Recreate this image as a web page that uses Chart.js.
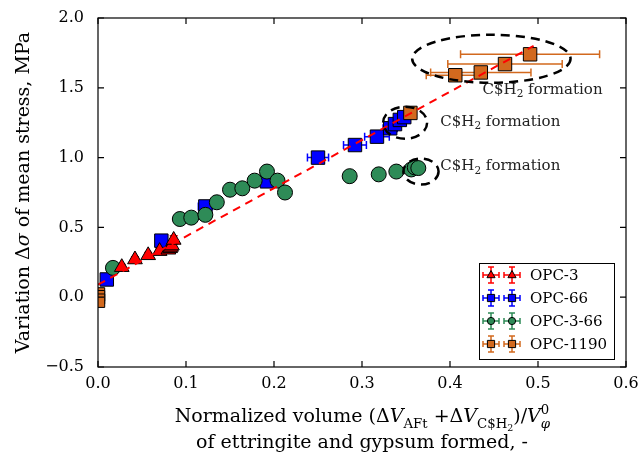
<!DOCTYPE html>
<html lang="en">
<head>
  <meta charset="UTF-8" />
  <title>Mean stress vs normalized volume</title>
  <script src="https://cdn.jsdelivr.net/npm/chart.js"></script>
  <style>
    body { margin: 0; background: #fff; }
    #wrap { width: 638px; height: 465px; }
  </style>
</head>
<body>
  <div id="wrap"><canvas id="chart"></canvas></div>

  <script>
    // x ticks / y ticks
    const xTicks = [0, 0.1, 0.2, 0.3, 0.4, 0.5, 0.6];
    const yTicks = [-0.5, 0, 0.5, 1.0, 1.5, 2.0];

    // OPC-3 (red triangles)
    const opc3X = [0.027, 0.042, 0.057, 0.070, 0.080, 0.082, 0.083, 0.084, 0.086];
    const opc3Y = [0.215, 0.27, 0.30, 0.33, 0.34, 0.35, 0.36, 0.37, 0.41];
    const opc3Yerr = [0.02, 0.02, 0.02, 0.02, 0.02, 0.02, 0.02, 0.02, 0.03];

    // OPC-66 (blue squares)
    const opc66X = [0.010, 0.072, 0.122, 0.192, 0.250, 0.292, 0.317, 0.332, 0.3375, 0.343, 0.348];
    const opc66Y = [0.127, 0.405, 0.65, 0.83, 1.00, 1.09, 1.15, 1.21, 1.24, 1.27, 1.29];
    const opc66Xerr = [0, 0, 0.008, 0.006, 0.012, 0.013, 0.014, 0.008, 0.006, 0.006, 0.006];

    // OPC-3-66 (green circles)
    const opc366X = [0.017, 0.093, 0.106, 0.122, 0.135, 0.150, 0.164, 0.178, 0.192, 0.204, 0.2125, 0.286, 0.319, 0.339, 0.356, 0.360, 0.364];
    const opc366Y = [0.21, 0.56, 0.57, 0.59, 0.68, 0.77, 0.78, 0.835, 0.90, 0.835, 0.75, 0.867, 0.88, 0.90, 0.915, 0.93, 0.925];

    // OPC-1190 (orange squares)
    const opc1190X = [0.0, 0.0, 0.0, 0.355, 0.406, 0.435, 0.4625, 0.491];
    const opc1190Y = [0.02, 0.0, -0.025, 1.32, 1.59, 1.61, 1.67, 1.74];
    const opc1190Xerr = [0, 0, 0, 0.004, 0.033, 0.057, 0.065, 0.079];

    // dashed trend line
    const fitX = [0.0, 0.495];
    const fitY = [0.09, 1.80];

    // "C$H2 formation" ellipses: centre x, centre y, half width, half height (data units)
    const ellX = [0.447, 0.349, 0.367];
    const ellY = [1.708, 1.25, 0.90];
    const ellRx = [0.090, 0.025, 0.020];
    const ellRy = [0.172, 0.115, 0.093];
    // annotation text anchors (data units)
    const noteX = [0.437, 0.389, 0.389];
    const noteY = [1.48, 1.25, 0.93];

    const RED = "#ff0000", BLUE = "#0000ff", GREEN = "#2e8b57", ORANGE = "#d2691e";
    const SERIF = "'DejaVu Serif', serif";

    const pts = (xs, ys) => xs.map((x, i) => ({ x: x, y: ys[i] }));

    // rich text: parts = [text, kind] kind: n, i, sub, subsub, sup, isub (italic sub, no advance)
    function richParts(ctx, parts, base) {
      return parts.map(([t, k]) => {
        let size = base, dy = 0, style = "", adv = true;
        if (k === "i") style = "italic ";
        if (k === "sub") { size = base * 0.7; dy = base * 0.3; }
        if (k === "isub") { size = base * 0.7; dy = base * 0.3; style = "italic "; adv = false; }
        if (k === "subsub") { size = base * 0.5; dy = base * 0.45; }
        if (k === "sup") { size = base * 0.7; dy = -base * 0.4; }
        ctx.font = style + size + "px " + SERIF;
        const w = ctx.measureText(t).width;
        return { t, font: ctx.font, dy, w, adv };
      });
    }
    function drawRich(ctx, parts, base, x, y) {
      const items = richParts(ctx, parts, base);
      const total = items.reduce((s, p) => s + (p.adv ? p.w : 0), 0);
      let cx = x - total / 2;
      ctx.textAlign = "left";
      ctx.textBaseline = "alphabetic";
      items.forEach(p => {
        ctx.font = p.font;
        ctx.fillText(p.t, cx, y + p.dy);
        if (p.adv) cx += p.w;
      });
    }

    function marker(ctx, shape, x, y, r, color) {
      ctx.fillStyle = color;
      ctx.strokeStyle = "#000";
      ctx.lineWidth = 1;
      ctx.beginPath();
      if (shape === "triangle") {
        ctx.moveTo(x, y - r);
        ctx.lineTo(x + r * 0.9, y + r * 0.6);
        ctx.lineTo(x - r * 0.9, y + r * 0.6);
        ctx.closePath();
      } else if (shape === "rect") {
        ctx.rect(x - r * 0.8, y - r * 0.8, r * 1.6, r * 1.6);
      } else {
        ctx.arc(x, y, r * 0.8, 0, Math.PI * 2);
      }
      ctx.fill();
      ctx.stroke();
    }

    const overlay = {
      id: "overlay",
      beforeDatasetsDraw(chart) {
        const ctx = chart.ctx, xs = chart.scales.x, ys = chart.scales.y;
        const a = chart.chartArea;
        ctx.save();
        ctx.beginPath();
        ctx.rect(a.left, a.top, a.right - a.left, a.bottom - a.top);
        ctx.clip();
        ctx.lineWidth = 1.5;
        const hbars = (X, Y, E, color) => {
          ctx.strokeStyle = color;
          X.forEach((x, i) => {
            if (!E[i]) return;
            const px1 = xs.getPixelForValue(x - E[i]), px2 = xs.getPixelForValue(x + E[i]);
            const py = ys.getPixelForValue(Y[i]);
            ctx.beginPath();
            ctx.moveTo(px1, py); ctx.lineTo(px2, py);
            ctx.moveTo(px1, py - 4); ctx.lineTo(px1, py + 4);
            ctx.moveTo(px2, py - 4); ctx.lineTo(px2, py + 4);
            ctx.stroke();
          });
        };
        const vbars = (X, Y, E, color) => {
          ctx.strokeStyle = color;
          X.forEach((x, i) => {
            if (!E[i]) return;
            const px = xs.getPixelForValue(x);
            const py1 = ys.getPixelForValue(Y[i] - E[i]), py2 = ys.getPixelForValue(Y[i] + E[i]);
            ctx.beginPath();
            ctx.moveTo(px, py1); ctx.lineTo(px, py2);
            ctx.moveTo(px - 4, py1); ctx.lineTo(px + 4, py1);
            ctx.moveTo(px - 4, py2); ctx.lineTo(px + 4, py2);
            ctx.stroke();
          });
        };
        hbars(opc66X, opc66Y, opc66Xerr, BLUE);
        hbars(opc1190X, opc1190Y, opc1190Xerr, ORANGE);
        vbars(opc3X, opc3Y, opc3Yerr, RED);
        ctx.restore();
      },
      afterDraw(chart) {
        const ctx = chart.ctx, xs = chart.scales.x, ys = chart.scales.y;
        const a = chart.chartArea;
        ctx.save();

        // ellipses
        ctx.strokeStyle = "#000";
        ctx.lineWidth = 2.5;
        ctx.setLineDash([9, 6]);
        ellX.forEach((x, i) => {
          const cx = xs.getPixelForValue(x), cy = ys.getPixelForValue(ellY[i]);
          const rx = xs.getPixelForValue(x + ellRx[i]) - cx;
          const ry = cy - ys.getPixelForValue(ellY[i] + ellRy[i]);
          ctx.beginPath();
          ctx.ellipse(cx, cy, rx, ry, 0, 0, Math.PI * 2);
          ctx.stroke();
        });
        ctx.setLineDash([]);

        // annotations
        ctx.fillStyle = "#222";
        noteX.forEach((x, i) => {
          const px = xs.getPixelForValue(x), py = ys.getPixelForValue(noteY[i]);
          const items = richParts(ctx, [["C$H", "n"], ["2", "sub"], [" formation", "n"]], 15);
          let cx = px;
          ctx.textAlign = "left";
          ctx.textBaseline = "alphabetic";
          items.forEach(p => { ctx.font = p.font; ctx.fillText(p.t, cx, py + 3 + p.dy * 0.7); cx += p.w; });
        });

        // frame + inward ticks on all sides
        ctx.strokeStyle = "#000";
        ctx.lineWidth = 1.2;
        ctx.strokeRect(a.left, a.top, a.right - a.left, a.bottom - a.top);
        ctx.beginPath();
        xTicks.forEach(v => {
          const p = xs.getPixelForValue(v);
          ctx.moveTo(p, a.bottom); ctx.lineTo(p, a.bottom - 6);
          ctx.moveTo(p, a.top); ctx.lineTo(p, a.top + 6);
        });
        yTicks.forEach(v => {
          const p = ys.getPixelForValue(v);
          ctx.moveTo(a.left, p); ctx.lineTo(a.left + 6, p);
          ctx.moveTo(a.right, p); ctx.lineTo(a.right - 6, p);
        });
        ctx.stroke();

        // legend
        const lx = 479, ly = 263, lw = 135, lh = 96;
        ctx.fillStyle = "#fff";
        ctx.fillRect(lx, ly, lw, lh);
        ctx.strokeStyle = "#000";
        ctx.lineWidth = 1;
        ctx.strokeRect(lx + 0.5, ly + 0.5, lw, lh);
        const entries = [["OPC-3", RED, "triangle"], ["OPC-66", BLUE, "rect"], ["OPC-3-66", GREEN, "circle"], ["OPC-1190", ORANGE, "rect"]];
        entries.forEach(([label, color, shape], i) => {
          const my = 275 + i * 23;
          [491, 512].forEach(mx => {
            ctx.strokeStyle = color;
            ctx.lineWidth = 1.5;
            ctx.beginPath();
            ctx.moveTo(mx - 8, my); ctx.lineTo(mx + 8, my);
            ctx.moveTo(mx - 8, my - 3); ctx.lineTo(mx - 8, my + 3);
            ctx.moveTo(mx + 8, my - 3); ctx.lineTo(mx + 8, my + 3);
            ctx.moveTo(mx, my - 8); ctx.lineTo(mx, my + 8);
            ctx.moveTo(mx - 3, my - 8); ctx.lineTo(mx + 3, my - 8);
            ctx.moveTo(mx - 3, my + 8); ctx.lineTo(mx + 3, my + 8);
            ctx.stroke();
            marker(ctx, shape, mx, my, 4.5, color);
          });
          ctx.fillStyle = "#000";
          ctx.font = "15px " + SERIF;
          ctx.textAlign = "left";
          ctx.textBaseline = "middle";
          ctx.fillText(label, 530, my + 1);
        });

        // axis titles
        ctx.fillStyle = "#000";
        const midX = (a.left + a.right) / 2;
        drawRich(ctx, [["Normalized volume (Δ", "n"], ["V", "i"], ["AFt", "sub"], [" +Δ", "n"], ["V", "i"],
          ["C$H", "sub"], ["2", "subsub"], [")/", "n"], ["V", "i"], ["φ", "isub"], ["0", "sup"]], 19, midX, 422);
        drawRich(ctx, [["of ettringite and gypsum formed, -", "n"]], 19, midX, 448);

        ctx.translate(29, (a.top + a.bottom) / 2);
        ctx.rotate(-Math.PI / 2);
        drawRich(ctx, [["Variation Δ", "n"], ["σ", "i"], [" of mean stress, MPa", "n"]], 19, 0, 0);
        ctx.restore();
      }
    };

    new Chart(document.getElementById("chart"), {
      type: "scatter",
      data: {
        datasets: [
          {
            type: "line", label: "fit", data: pts(fitX, fitY), order: 0,
            borderColor: RED, borderWidth: 2, borderDash: [8, 6], pointRadius: 0, fill: false
          },
          {
            label: "OPC-3", data: pts(opc3X, opc3Y), order: 1, pointStyle: "triangle",
            pointRadius: 8.5, backgroundColor: RED, borderColor: "#000", borderWidth: 1
          },
          {
            label: "OPC-1190", data: pts(opc1190X, opc1190Y), order: 2, pointStyle: "rect",
            pointRadius: 9.5, backgroundColor: ORANGE, borderColor: "#000", borderWidth: 1
          },
          {
            label: "OPC-3-66", data: pts(opc366X, opc366Y), order: 3, pointStyle: "circle",
            pointRadius: 7.5, backgroundColor: GREEN, borderColor: "#000", borderWidth: 1
          },
          {
            label: "OPC-66", data: pts(opc66X, opc66Y), order: 4, pointStyle: "rect",
            pointRadius: 9.5, backgroundColor: BLUE, borderColor: "#000", borderWidth: 1
          }
        ]
      },
      options: {
        responsive: true,
        maintainAspectRatio: false,
        animation: false,
        layout: { padding: { left: 0, top: 18, right: 12, bottom: 0 } },
        plugins: { legend: { display: false }, tooltip: { enabled: false } },
        scales: {
          x: {
            type: "linear", min: 0, max: 0.6,
            afterFit: s => { s.height = 98; s.paddingLeft = 0; s.paddingRight = 0; },
            afterBuildTicks: s => { s.ticks = xTicks.map(v => ({ value: v })); },
            ticks: {
              color: "#000", padding: 7, maxRotation: 0,
              font: { family: SERIF, size: 16 },
              callback: v => v.toFixed(1)
            },
            grid: { display: false, drawTicks: false },
            border: { display: false }
          },
          y: {
            type: "linear", min: -0.5, max: 2.0,
            afterFit: s => { s.width = 98; s.paddingTop = 0; s.paddingBottom = 0; },
            afterBuildTicks: s => { s.ticks = yTicks.map(v => ({ value: v })); },
            ticks: {
              color: "#000", padding: 14,
              font: { family: SERIF, size: 16 },
              callback: v => (v < 0 ? "−" : "") + Math.abs(v).toFixed(1)
            },
            grid: { display: false, drawTicks: false },
            border: { display: false }
          }
        }
      },
      plugins: [overlay]
    });
  </script>
</body>
</html>
